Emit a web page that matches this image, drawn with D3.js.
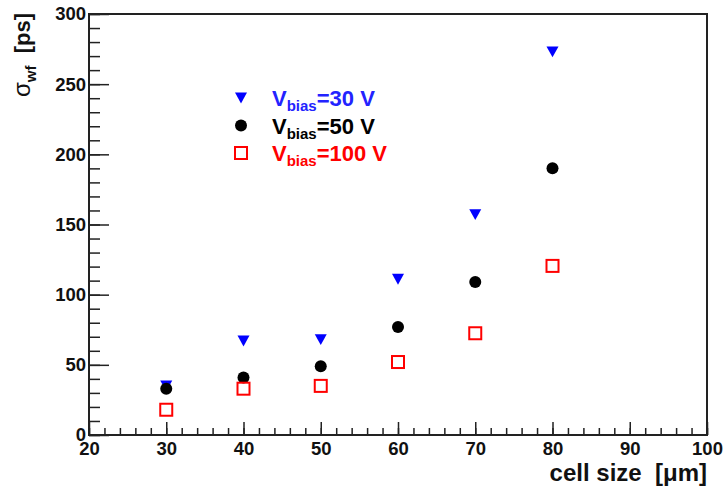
<!DOCTYPE html>
<html>
<head>
<meta charset="utf-8">
<script src="https://cdn.jsdelivr.net/npm/d3@7"></script>
<style>
  body { margin: 0; background: #fff; }
  text { font-family: "Liberation Sans", Arial, sans-serif; font-weight: bold; }
</style>
</head>
<body>
<div id="chart"></div>
<script>
// Data
const cellSize = [30, 40, 50, 60, 70, 80];
const sigma30 = [35, 67, 68, 111, 157, 273];
const sigma50 = [33, 41, 49, 77, 109, 190];
const sigma100 = [18, 33, 35, 52, 72.5, 120.5];
const xTicks = [20, 30, 40, 50, 60, 70, 80, 90, 100];
const yTicks = [0, 50, 100, 150, 200, 250, 300];
const legendVolts = ["30", "50", "100"];

const W = 727, H = 494;
const margin = { top: 14, right: 20, bottom: 59, left: 89 };

const svg = d3.select("#chart").append("svg")
  .attr("width", W)
  .attr("height", H);

const x = d3.scaleLinear().domain([20, 100]).range([margin.left, W - margin.right]);
const y = d3.scaleLinear().domain([0, 300]).range([H - margin.bottom, margin.top]);

const axisColor = "#222";

// minor ticks
svg.append("g")
  .attr("transform", `translate(0,${y(0)})`)
  .call(d3.axisBottom(x).tickValues(d3.range(20, 101, 2)).tickSizeInner(-7).tickSizeOuter(0).tickFormat(""))
  .call(g => g.select(".domain").remove())
  .call(g => g.selectAll("line").attr("stroke", axisColor).attr("stroke-width", 1.5));

svg.append("g")
  .attr("transform", `translate(${x(20)},0)`)
  .call(d3.axisLeft(y).tickValues(d3.range(0, 301, 10)).tickSizeInner(-11).tickSizeOuter(0).tickFormat(""))
  .call(g => g.select(".domain").remove())
  .call(g => g.selectAll("line").attr("stroke", axisColor).attr("stroke-width", 1.5));

// major ticks + labels
svg.append("g")
  .attr("transform", `translate(0,${y(0)})`)
  .call(d3.axisBottom(x).tickValues(xTicks).tickSizeInner(-13).tickSizeOuter(0).tickPadding(7))
  .call(g => g.select(".domain").remove())
  .call(g => g.selectAll("line").attr("stroke", axisColor).attr("stroke-width", 1.5))
  .call(g => g.selectAll("text").attr("fill", "#111").style("font-size", "18.5px")
    .style("font-family", "'Liberation Sans', Arial, sans-serif").style("font-weight", "bold"));

svg.append("g")
  .attr("transform", `translate(${x(20)},0)`)
  .call(d3.axisLeft(y).tickValues(yTicks).tickSizeInner(-20).tickSizeOuter(0).tickPadding(3))
  .call(g => g.select(".domain").remove())
  .call(g => g.selectAll("line").attr("stroke", axisColor).attr("stroke-width", 1.5))
  .call(g => g.selectAll("text").attr("fill", "#111").style("font-size", "18.5px")
    .style("font-family", "'Liberation Sans', Arial, sans-serif").style("font-weight", "bold"));

// frame
svg.append("rect")
  .attr("x", x(20))
  .attr("y", y(300))
  .attr("width", x(100) - x(20))
  .attr("height", y(0) - y(300))
  .attr("fill", "none")
  .attr("stroke", axisColor)
  .attr("stroke-width", 2);

// axis titles
svg.append("text")
  .attr("x", x(100))
  .attr("y", 481)
  .attr("text-anchor", "end")
  .attr("xml:space", "preserve")
  .style("font-size", "24px")
  .attr("fill", "#111")
  .text("cell size  [μm]");

const yTitle = svg.append("text")
  .attr("transform", "translate(30,13) rotate(-90)")
  .attr("text-anchor", "end")
  .attr("xml:space", "preserve")
  .style("font-size", "22px")
  .attr("fill", "#111");
yTitle.append("tspan").style("font-weight", "normal").style("font-size", "24px").text("σ");
yTitle.append("tspan").attr("dy", 6).style("font-size", "15px").text("wf");
yTitle.append("tspan").attr("dy", -6).text("  [ps]");

// markers
const tri = (cx, cy, s) => `M${cx - s},${cy - s * 0.9}L${cx + s},${cy - s * 0.9}L${cx},${cy + s * 0.9}Z`;

const series = [
  { vals: sigma30, color: "#0000ff", textColor: "#2323ff", kind: "tri" },
  { vals: sigma50, color: "#000000", textColor: "#000000", kind: "circle" },
  { vals: sigma100, color: "#ff0000", textColor: "#ff0000", kind: "square" }
];

function drawMarker(g, kind, color, cx, cy) {
  if (kind === "tri") {
    g.append("path").attr("d", tri(cx, cy, 6)).attr("fill", color);
  } else if (kind === "circle") {
    g.append("circle").attr("cx", cx).attr("cy", cy).attr("r", 6).attr("fill", color);
  } else {
    g.append("rect").attr("x", cx - 6).attr("y", cy - 6).attr("width", 12).attr("height", 12)
      .attr("fill", "none").attr("stroke", color).attr("stroke-width", 2);
  }
}

const marks = svg.append("g");
// triangles first, then circles, then squares on top
series.forEach(s => {
  s.vals.forEach((v, i) => drawMarker(marks, s.kind, s.color, x(cellSize[i]), y(v)));
});

// legend
const legend = svg.append("g");
series.forEach((s, i) => {
  const cy = 98 + i * 27.5;
  drawMarker(legend, s.kind, s.color, 241, cy);
  const t = legend.append("text")
    .attr("x", 272)
    .attr("y", cy + 8)
    .attr("fill", s.textColor)
    .style("font-size", "22px");
  t.append("tspan").text("V");
  t.append("tspan").attr("dy", 5).style("font-size", "15px").text("bias");
  t.append("tspan").attr("dy", -5).text(`=${legendVolts[i]} V`);
});
</script>
</body>
</html>
